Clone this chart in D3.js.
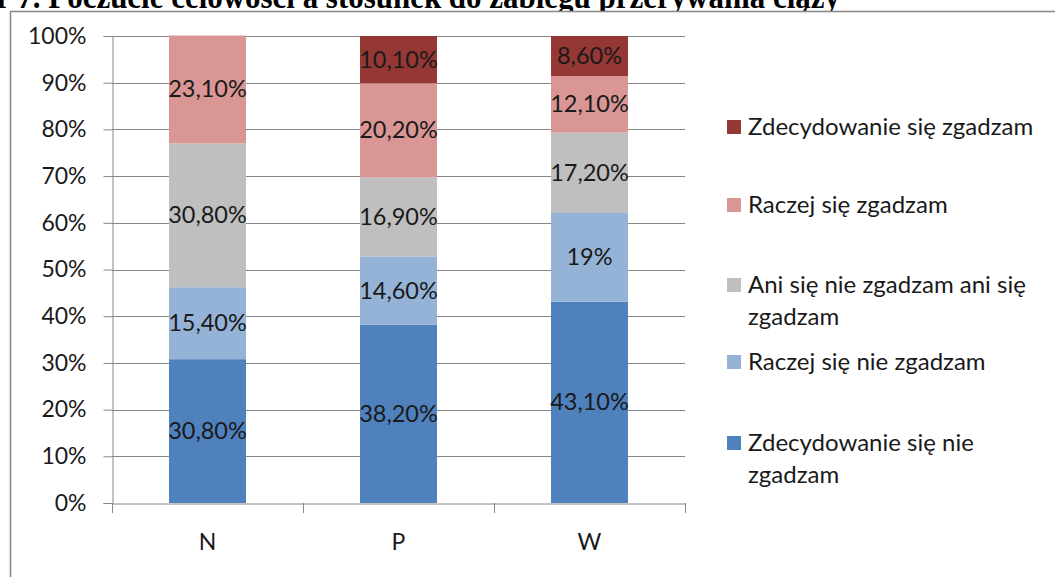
<!DOCTYPE html>
<html><head><meta charset="utf-8">
<script src="https://cdn.jsdelivr.net/npm/d3@7"></script>
<style>body{margin:0;background:#fff}svg{display:block}</style>
</head><body>
<svg id="c" width="1055" height="577"></svg>
<script>
const categories = ["N", "P", "W"];
const seriesNames = ["Zdecydowanie się nie zgadzam", "Raczej się nie zgadzam", "Ani się nie zgadzam ani się zgadzam", "Raczej się zgadzam", "Zdecydowanie się zgadzam"];
const zdecNie = [30.8, 38.2, 43.1];
const raczejNie = [15.4, 14.6, 19];
const ani = [30.8, 16.9, 17.2];
const raczejTak = [23.1, 20.2, 12.1];
const zdecTak = [0, 10.1, 8.6];
const labelsZdecNie = ["30,80%", "38,20%", "43,10%"];
const labelsRaczejNie = ["15,40%", "14,60%", "19%"];
const labelsAni = ["30,80%", "16,90%", "17,20%"];
const labelsRaczejTak = ["23,10%", "20,20%", "12,10%"];
const labelsZdecTak = ["", "10,10%", "8,60%"];
const yTicks = [0, 10, 20, 30, 40, 50, 60, 70, 80, 90, 100];
const legendLines = [["Zdecydowanie się zgadzam"], ["Raczej się zgadzam"], ["Ani się nie zgadzam ani się", "zgadzam"], ["Raczej się nie zgadzam"], ["Zdecydowanie się nie", "zgadzam"]];
const title = "Wykres nr 7. Poczucie celowości a stosunek do zabiegu przerywania ciąży";

const colors = ["#4F81BD", "#95B3D7", "#BFBFBF", "#D99694", "#953735"];
const values = [zdecNie, raczejNie, ani, raczejTak, zdecTak];
const labels = [labelsZdecNie, labelsRaczejNie, labelsAni, labelsRaczejTak, labelsZdecTak];
const font = "Lato, 'Open Sans', sans-serif";

const svg = d3.select("#c");
// title (clipped at top, as in the source)
svg.append("text").attr("x", 840).attr("y", 8).attr("text-anchor", "end")
  .attr("font-family", "'Liberation Serif', serif").attr("font-weight", "bold").attr("font-size", 33)
  .attr("textLength", 970).attr("lengthAdjust", "spacingAndGlyphs")
  .attr("fill", "#000").text(title);
// frame
svg.append("rect").attr("x", 10.5).attr("y", 11.5).attr("width", 1100).attr("height", 700)
  .attr("fill", "#fff").attr("stroke", "#8c8c8c").attr("stroke-width", 1.6);

const x = d3.scaleBand().domain(categories).range([112, 685]).paddingInner(0).paddingOuter(0);
const y = d3.scaleLinear().domain([0, 100]).range([503, 36]);
const barW = 77;

// gridlines
const g = svg.append("g");
g.selectAll("line.grid").data(yTicks.filter(d => d > 0)).join("line")
  .attr("x1", 112).attr("x2", 685).attr("y1", d => Math.round(y(d)) + 0.5).attr("y2", d => Math.round(y(d)) + 0.5)
  .attr("stroke", "#868686").attr("stroke-width", 1);

// stacks
const stackData = categories.map((c, i) => {
  const o = { cat: c };
  values.forEach((v, s) => o["s" + s] = v[i]);
  return o;
});
const stack = d3.stack().keys(values.map((v, s) => "s" + s));
const series = stack(stackData);
series.forEach((ser, s) => {
  svg.append("g").selectAll("rect").data(ser).join("rect")
    .attr("x", d => x(d.data.cat) + x.bandwidth() / 2 - barW / 2)
    .attr("width", barW)
    .attr("y", d => y(d[1]))
    .attr("height", d => y(d[0]) - y(d[1]))
    .attr("fill", colors[s]);
});
series.forEach((ser, s) => {
  svg.append("g").selectAll("text").data(ser).join("text")
    .attr("x", d => x(d.data.cat) + x.bandwidth() / 2)
    .attr("y", d => (y(d[0]) + y(d[1])) / 2 + 8)
    .attr("text-anchor", "middle").attr("font-family", font).attr("font-size", 23.5).attr("fill", "#1a1a1a")
    .text((d, i) => labels[s][i]);
});

// y axis
const yAxis = d3.axisLeft(y).tickValues(yTicks).tickFormat(d => d + "%").tickSize(9).tickPadding(17);
const ya = svg.append("g").attr("transform", "translate(112.5,0)").call(yAxis);
ya.select(".domain").attr("stroke", "#868686");
ya.selectAll(".tick line").attr("stroke", "#868686");
ya.selectAll("text").attr("font-family", font).attr("font-size", 23).attr("fill", "#1a1a1a");

// x axis
const xAxis = d3.axisBottom(x).tickSize(0).tickPadding(30);
const xa = svg.append("g").attr("transform", "translate(0,503.5)").call(xAxis);
xa.select(".domain").attr("stroke", "#868686");
xa.selectAll("text").attr("font-family", font).attr("font-size", 23).attr("fill", "#1a1a1a");
const xt = [...categories.map(c => x(c)), 685];
svg.append("g").selectAll("line").data(xt).join("line")
  .attr("x1", d => Math.round(d) + 0.5).attr("x2", d => Math.round(d) + 0.5)
  .attr("y1", 503).attr("y2", 513).attr("stroke", "#868686");

// legend
const legY = [127, 205, 285, 362, 443];
const lcol = [4, 3, 2, 1, 0];
const leg = svg.append("g");
legendLines.forEach((lines, i) => {
  leg.append("rect").attr("x", 727).attr("y", legY[i] - 7).attr("width", 14).attr("height", 14).attr("fill", colors[lcol[i]]);
  lines.forEach((t, j) => {
    leg.append("text").attr("x", 748).attr("y", legY[i] + 8 + j * 32)
      .attr("font-family", font).attr("font-size", 24).attr("fill", "#1a1a1a").text(t);
  });
});
</script>
</body></html>
